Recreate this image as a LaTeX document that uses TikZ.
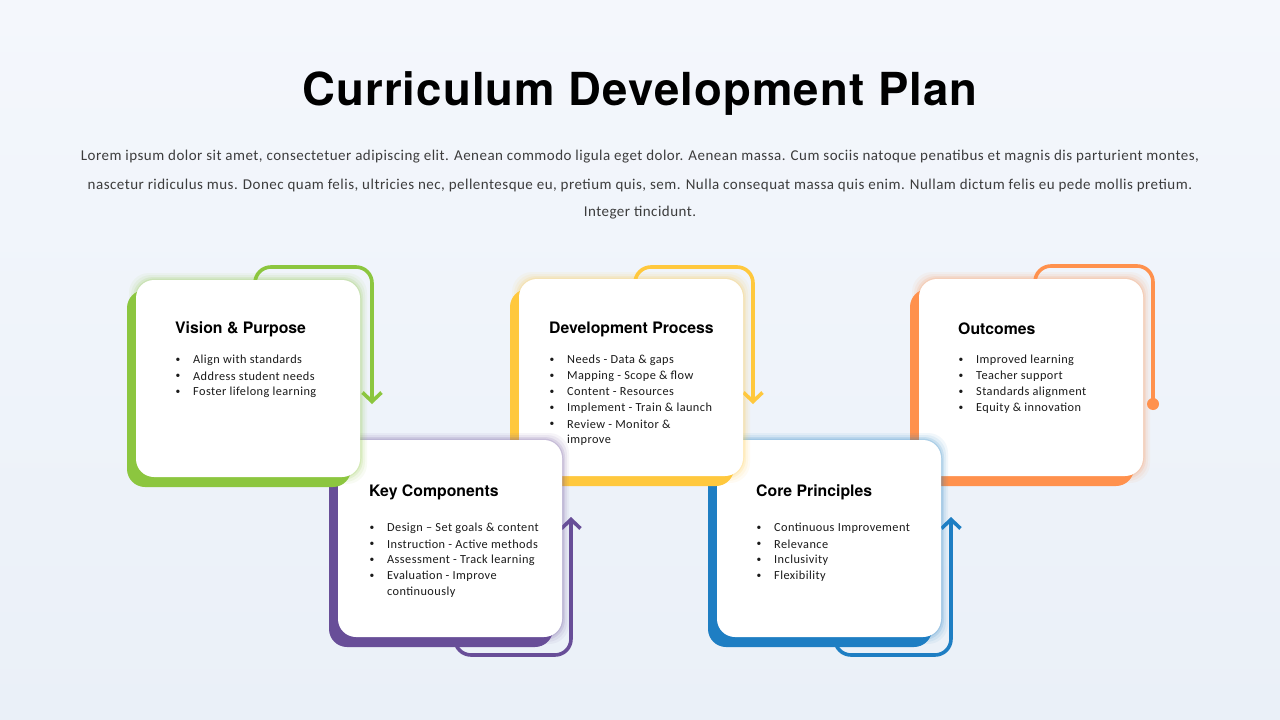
\documentclass[tikz,border=0pt]{standalone}
\usepackage{fontspec}
\setmainfont{Carlito}
\newfontfamily\headfont{TeX Gyre Heros}
\newfontfamily\titlefont[LetterSpace=2.5]{TeX Gyre Heros}
\newfontfamily\parafont[LetterSpace=3.2]{Carlito}
\newfontfamily\itemfont[LetterSpace=3.5]{Carlito}
\usetikzlibrary{arrows.meta}
\definecolor{cgreen}{HTML}{8CC63F}
\definecolor{cpurple}{HTML}{684E98}
\definecolor{cyellow}{HTML}{FFC83D}
\definecolor{cblue}{HTML}{1E7EC3}
\definecolor{corange}{HTML}{FF914D}
\definecolor{bgtop}{HTML}{F4F7FC}
\definecolor{bgbot}{HTML}{EAF0F8}
\definecolor{txt}{HTML}{1A1A1A}
\tikzset{
  flow/.style={line width=3.6pt, rounded corners=16pt, -{Straight Barb[length=9pt,width=19pt]}},
  flowdot/.style={line width=3.6pt, rounded corners=16pt},
  whitecard/.style={fill=white, rounded corners=18pt, draw=none},
  backcard/.style={rounded corners=18pt, draw=none},
  title/.style={font=\titlefont\bfseries\fontsize{45.5}{50}\selectfont, text=black},
  para/.style={font=\parafont\fontsize{15}{17}\selectfont, text=txt!85},
  head/.style={font=\headfont\bfseries\fontsize{15.8}{18}\selectfont, text=black, anchor=west, inner sep=0pt},
  itm/.style={font=\itemfont\fontsize{12.3}{14}\selectfont, text=txt, anchor=west, inner sep=0pt},
  bul/.style={font=\fontsize{9.5}{11}\selectfont, text=txt, inner sep=0pt},
}
% card: name, x, y, colour
\newcommand\drawcard[4]{%
  \fill[backcard, fill=#4] (#2-9,#3+10) rectangle ++(224,197);
  \foreach \g/\o in {7/0.06,5/0.08,3/0.12,1.5/0.16}{%
    \fill[rounded corners=20pt, fill=#4, opacity=\o] (#2-\g,#3-\g) rectangle (#2+224+\g,#3+197+\g);}
  \path[whitecard] (#2,#3) rectangle ++(224,197) coordinate (#1se);
  \coordinate (#1nw) at (#2,#3);
}
\newcommand\bitem[4]{\node[bul] (#1b) at (#2,#3+1) {•}; \node[itm] (#1) at (#2+15,#3+1) {#4};}
\newcommand\citem[4]{\node[itm] (#1) at (#2+15,#3+1) {#4};}
\begin{document}
\begin{tikzpicture}[x=1pt,y=-1pt]
\shade[top color=bgtop, bottom color=bgbot] (0,0) rectangle (1280,720);
\useasboundingbox (0,0) rectangle (1280,720);

\node[title, anchor=base] (ttl) at (640,105) {Curriculum Development Plan};
\node[para] (p1) at (640,157) {Lorem ipsum dolor sit amet, consectetuer adipiscing elit. Aenean commodo ligula eget dolor. Aenean massa. Cum sociis natoque penatibus et magnis dis parturient montes,};
\node[para] (p2) at (640,185) {nascetur ridiculus mus. Donec quam felis, ultricies nec, pellentesque eu, pretium quis, sem. Nulla consequat massa quis enim. Nullam dictum felis eu pede mollis pretium.};
\node[para] (p3) at (640,213) {Integer tincidunt.};

% connectors (behind cards)
\coordinate (a1s) at (255,285); \coordinate (a1e) at (372,404);
\coordinate (a2s) at (455,635); \coordinate (a2e) at (571,517);
\coordinate (a3s) at (635,285); \coordinate (a3e) at (753,404);
\coordinate (a4s) at (835,635); \coordinate (a4e) at (951,517);
\coordinate (a5s) at (1035,285); \coordinate (a5e) at (1153,404);
\draw[flow, cgreen] (a1s) |- (313,267) -| (a1e);
\draw[flow, cpurple] (a2s) |- (513,655) -| (a2e);
\draw[flow, cyellow] (a3s) |- (694,267) -| (a3e);
\draw[flow, cblue] (a4s) |- (893,655) -| (a4e);
\draw[flowdot, corange] (a5s) |- (1094,266) -| (a5e);
\fill[corange] (a5e) circle (6);

% cards, back to front
\drawcard{c5}{919}{279}{corange}
\drawcard{c4}{717}{440}{cblue}
\drawcard{c3}{519}{279}{cyellow}
\drawcard{c2}{338}{440}{cpurple}
\drawcard{c1}{136}{280}{cgreen}

% card texts
\node[head] (h1) at (175,329) {Vision \& Purpose};
\bitem{i11}{178}{359}{Align with standards}
\bitem{i12}{178}{375}{Address student needs}
\bitem{i13}{178}{391}{Foster lifelong learning}

\node[head] (h2) at (369,492) {Key Components};
\bitem{i21}{372}{527}{Design – Set goals \& content}
\bitem{i22}{372}{543}{Instruction - Active methods}
\bitem{i23}{372}{559}{Assessment - Track learning}
\bitem{i24}{372}{575}{Evaluation - Improve}
\citem{i25}{372}{591}{continuously}

\node[head] (h3) at (549,329) {Development Process};
\bitem{i31}{552}{359}{Needs - Data \& gaps}
\bitem{i32}{552}{375}{Mapping - Scope \& flow}
\bitem{i33}{552}{391}{Content - Resources}
\bitem{i34}{552}{407}{Implement - Train \& launch}
\bitem{i35}{552}{423}{Review - Monitor \&}
\citem{i36}{552}{439}{improve}

\node[head] (h4) at (756,492) {Core Principles};
\bitem{i41}{759}{527}{Continuous Improvement}
\bitem{i42}{759}{543}{Relevance}
\bitem{i43}{759}{559}{Inclusivity}
\bitem{i44}{759}{575}{Flexibility}

\node[head] (h5) at (958,329) {Outcomes};
\bitem{i51}{961}{359}{Improved learning}
\bitem{i52}{961}{375}{Teacher support}
\bitem{i53}{961}{391}{Standards alignment}
\bitem{i54}{961}{407}{Equity \& innovation}
\end{tikzpicture}
\end{document}
